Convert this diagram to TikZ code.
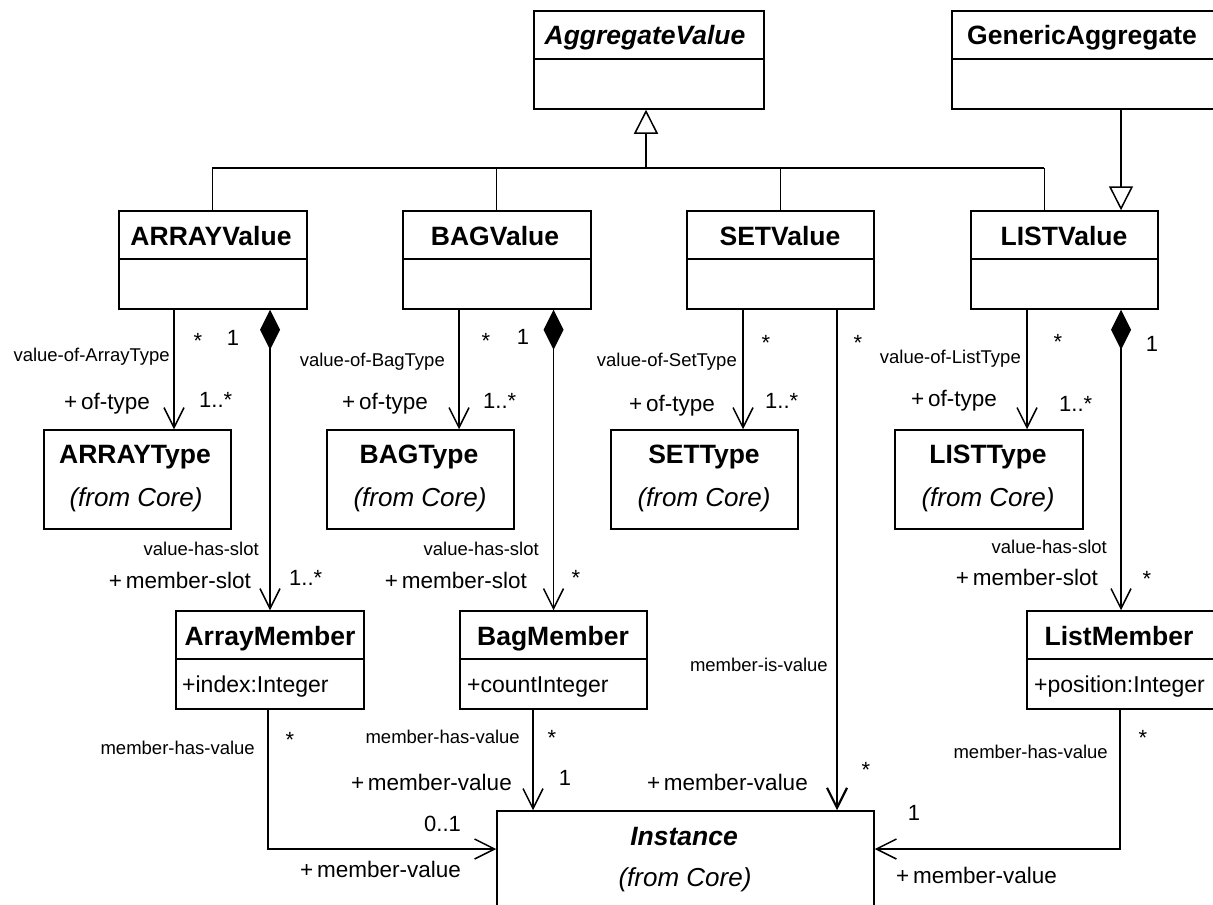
\documentclass[tikz,border=0pt]{standalone}
\usepackage{fontspec}
\setmainfont{Liberation Sans}
\usetikzlibrary{arrows.meta,fit}
\tikzset{
 box/.style={draw, line width=1.5pt, inner sep=0pt, fill=white},
 div/.style={line width=1.5pt},
 cname/.style={font=\fontsize{26.5}{31}\selectfont\bfseries, inner sep=0pt, anchor=base},
 cnamei/.style={font=\fontsize{26.5}{31}\selectfont\bfseries\itshape, inner sep=0pt, anchor=base},
 fromcore/.style={font=\fontsize{26}{31}\selectfont\itshape, inner sep=0pt, anchor=base},
 attr/.style={font=\fontsize{23}{27}\selectfont, inner sep=0pt, anchor=base west},
 role/.style={font=\fontsize{22.5}{27}\selectfont, inner sep=0pt},
 mult/.style={font=\fontsize{22}{26}\selectfont, inner sep=0pt},
 aname/.style={font=\fontsize{18.5}{22}\selectfont, inner sep=0pt},
 assoc/.style={line width=1.5pt, -{Straight Barb[length=20pt,width=20pt]}},
 comp/.style={line width=1.5pt, {Diamond[length=40pt,width=20pt]}-{Straight Barb[length=20pt,width=20pt]}},
 gen/.style={line width=1.5pt, -{Triangle[open,fill=white,length=24pt,width=24pt]}},
 drop/.style={line width=1pt},
 bar/.style={line width=1.5pt},
}
\begin{document}
\begin{tikzpicture}[x=1pt,y=-1pt]
\useasboundingbox (0,0) rectangle (1213,905);
\clip (0,0) rectangle (1213,905);

% ---- class boxes ----
\node[box, fit={(534,11) (764,109)}] (agg) {};
\node[box, fit={(952,11) (1235,109)}] (gen) {};
\node[box, fit={(119,211) (307,309)}] (av) {};
\node[box, fit={(403,211) (591,309)}] (bv) {};
\node[box, fit={(687,211) (874,309)}] (sv) {};
\node[box, fit={(971,211) (1158,309)}] (lv) {};
\node[box, fit={(44,430) (231,529)}] (at) {};
\node[box, fit={(327,430) (514,529)}] (bt) {};
\node[box, fit={(611,430) (798,529)}] (st) {};
\node[box, fit={(895,430) (1083,529)}] (lt) {};
\node[box, fit={(176,611) (364,709)}] (am) {};
\node[box, fit={(460,611) (647,709)}] (bm) {};
\node[box, fit={(1027,611) (1215,709)}] (lm) {};
\node[box, fit={(497,811) (874,915)}] (inst) {};

% dividers
\draw[div] (534,59) -- (764,59);
\draw[div] (952,59) -- (1235,59);
\draw[div] (119,259) -- (307,259);
\draw[div] (403,259) -- (591,259);
\draw[div] (687,259) -- (874,259);
\draw[div] (971,259) -- (1158,259);
\draw[div] (176,659) -- (364,659);
\draw[div] (460,659) -- (647,659);
\draw[div] (1027,659) -- (1215,659);

% class texts
\node[cnamei] (aggT) at (645,44) {AggregateValue};
\node[cname, anchor=base west] (genT) at (967,44) {GenericAggregate};
\node[cname] (avT) at (211,245) {ARRAYValue};
\node[cname] (bvT) at (495,245) {BAGValue};
\node[cname] (svT) at (780,245) {SETValue};
\node[cname] (lvT) at (1064,245) {LISTValue};
\node[cname] (atT) at (135,463) {ARRAYType};
\node[cname] (btT) at (419,463) {BAGType};
\node[cname] (stT) at (704,463) {SETType};
\node[cname] (ltT) at (988,463) {LISTType};
\node[fromcore] (atF) at (136,506) {(from Core)};
\node[fromcore] (btF) at (420,506) {(from Core)};
\node[fromcore] (stF) at (704,506) {(from Core)};
\node[fromcore] (ltF) at (988,506) {(from Core)};
\node[cname] (amT) at (270,645) {ArrayMember};
\node[cname] (bmT) at (553,645) {BagMember};
\node[cname] (lmT) at (1119,645) {ListMember};
\node[attr] (amA) at (182,692) {+index:Integer};
\node[attr] (bmA) at (467,692) {+countInteger};
\node[attr] (lmA) at (1034,692) {+position:Integer};
\node[cnamei] (instT) at (684,845) {Instance};
\node[fromcore] (instF) at (685,886) {(from Core)};

% ---- generalizations ----
\coordinate (barAgg) at (646,168);
\coordinate (barL) at (212,168);
\coordinate (barB) at (496,168);
\coordinate (barS) at (780,168);
\coordinate (barR) at (1044,168);
\draw[gen] (barAgg) -- (agg.south -| barAgg);
\draw[bar] (barL) -- (barR);
\draw[drop] (barL) -- (av.north -| barL);
\draw[drop] (barB) -- (bv.north -| barB);
\draw[drop] (barS) -- (sv.north -| barS);
\draw[drop] (barR) -- (lv.north -| barR);
\draw[gen] (gen.south -| 1121,0) -- (lv.north -| 1121,0);

% ---- associations ----
\draw[assoc] (av.south -| 174,0) -- (at.north -| 174,0);
\draw[comp] (av.south -| am.north) -- (am.north);
\draw[assoc] (bv.south -| 459,0) -- (bt.north -| 459,0);
\draw[comp] (bv.south -| bm.north) -- (bm.north);
\draw[assoc] (sv.south -| 743,0) -- (st.north -| 743,0);
\draw[assoc, line width=2.2pt] (sv.south -| 837,0) -- (inst.north -| 837,0);
\draw[assoc] (lv.south -| 1027,0) -- (lt.north -| 1027,0);
\draw[comp] (lv.south -| lm.north) -- (lm.north);
\draw[assoc] (am.south -| 268,0) |- (inst.west |- 0,849);
\draw[assoc] (bm.south -| 533,0) -- (inst.north -| 533,0);
\draw[assoc] (lm.south -| 1120,0) |- (inst.east |- 0,849);

% ---- association names ----
\node[aname, anchor=base east] (n1) at (170,361) {value-of-ArrayType};
\node[aname, anchor=base east] (n2) at (445,366) {value-of-BagType};
\node[aname, anchor=base east] (n3) at (737,366) {value-of-SetType};
\node[aname, anchor=base east] (n4) at (1021,363) {value-of-ListType};
\node[aname, anchor=base east] (n5) at (259,555) {value-has-slot};
\node[aname, anchor=base east] (n6) at (539,555) {value-has-slot};
\node[aname, anchor=base east] (n7) at (1107,553) {value-has-slot};
\node[aname, anchor=base east] (n8) at (828,671) {member-is-value};
\node[aname, anchor=base east] (n9) at (255,754) {member-has-value};
\node[aname, anchor=base east] (n10) at (520,743) {member-has-value};
\node[aname, anchor=base east] (n11) at (1108,758) {member-has-value};

% ---- role names ----
\node[role, anchor=base east] (r1) at (150,409) {+\,of-type};
\node[role, anchor=base east] (r2) at (428,409) {+\,of-type};
\node[role, anchor=base east] (r3) at (715,411) {+\,of-type};
\node[role, anchor=base east] (r4) at (997,406) {+\,of-type};
\node[role, anchor=base east] (r5) at (251,588) {+\,member-slot};
\node[role, anchor=base east] (r6) at (527,588) {+\,member-slot};
\node[role, anchor=base east] (r7) at (1098,585) {+\,member-slot};
\node[role, anchor=base east] (r8) at (512,790) {+\,member-value};
\node[role, anchor=base east] (r9) at (808,790) {+\,member-value};
\node[role, anchor=base west] (r10) at (300,877) {+\,member-value};
\node[role, anchor=base west] (r11) at (896,883) {+\,member-value};

% ---- multiplicities ----
\node[mult, anchor=base] (m1) at (198,348) {*};
\node[mult, anchor=base] (m2) at (233,345) {1};
\node[mult, anchor=base west] (m3) at (199,407) {1..*};
\node[mult, anchor=base] (m4) at (486,348) {*};
\node[mult, anchor=base] (m5) at (523,344) {1};
\node[mult, anchor=base west] (m6) at (483,408) {1..*};
\node[mult, anchor=base] (m7) at (766,350) {*};
\node[mult, anchor=base west] (m8) at (765,408) {1..*};
\node[mult, anchor=base] (m9) at (858,350) {*};
\node[mult, anchor=base] (m10) at (1058,349) {*};
\node[mult, anchor=base] (m11) at (1152,351) {1};
\node[mult, anchor=base west] (m12) at (1059,411) {1..*};
\node[mult, anchor=base west] (m13) at (289,585) {1..*};
\node[mult, anchor=base] (m14) at (576,585) {*};
\node[mult, anchor=base] (m15) at (1147,586) {*};
\node[mult, anchor=base] (m16) at (290,747) {*};
\node[mult, anchor=base] (m17) at (552,745) {*};
\node[mult, anchor=base] (m18) at (565,785) {1};
\node[mult, anchor=base] (m19) at (866,777) {*};
\node[mult, anchor=base west] (m20) at (424,831) {0..1};
\node[mult, anchor=base] (m21) at (1143,745) {*};
\node[mult, anchor=base] (m22) at (914,820) {1};
\end{tikzpicture}
\end{document}
